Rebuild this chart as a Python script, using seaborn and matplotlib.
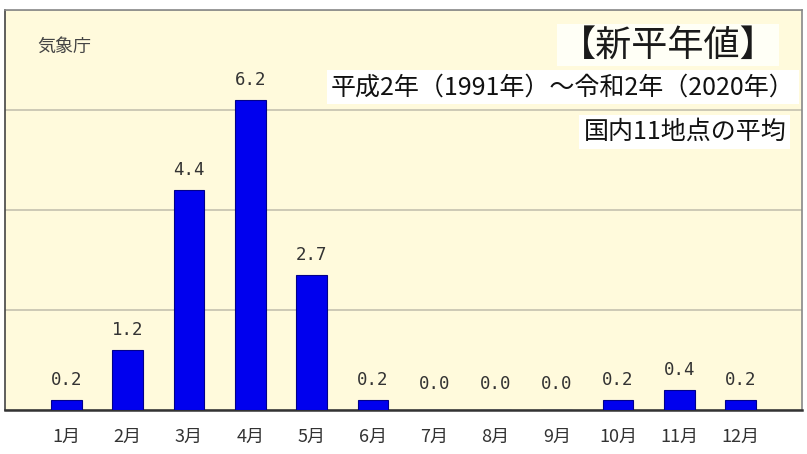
import numpy as np
import pandas as pd
import seaborn as sns
import matplotlib.pyplot as plt

months = ["1月", "2月", "3月", "4月", "5月", "6月", "7月", "8月", "9月", "10月", "11月", "12月"]
values = [0.2, 1.2, 4.4, 6.2, 2.7, 0.2, 0.0, 0.0, 0.0, 0.2, 0.4, 0.2]
value_labels = ["0.2", "1.2", "4.4", "6.2", "2.7", "0.2", "0.0", "0.0", "0.0", "0.2", "0.4", "0.2"]
title_text = "【新平年値】"
period_text = "平成2年（1991年）～令和2年（2020年）"
note_text = "国内11地点の平均"
source_text = "気象庁"

sns.set_style("white")
plt.rcParams["font.family"] = ["Noto Sans CJK JP", "DejaVu Sans"]

df = pd.DataFrame({"month": months, "value": values})

fig = plt.figure(figsize=(8.07, 4.54), dpi=100)
fig.patch.set_facecolor("white")
ax = fig.add_axes([5 / 807, 44 / 454, 797 / 807, 400 / 454])
ax.set_facecolor("#FFFADC")

sns.barplot(data=df, x="month", y="value", color="#0000EE", saturation=1,
            width=0.5, edgecolor="#00008A", linewidth=0.8, ax=ax, zorder=3)

ax.set_xlim(-1.0, 12.0)
ax.set_ylim(0, 8)
ax.set_yticks([0, 2, 4, 6, 8])
ax.set_yticklabels([])
ax.yaxis.grid(True, color="#C9C5B2", linewidth=1.3, zorder=0)
ax.set_axisbelow(True)
ax.set_xlabel("")
ax.set_ylabel("")
ax.tick_params(axis="x", length=0, pad=13, labelsize=13, labelcolor="#333333")
ax.tick_params(axis="y", length=4, direction="out", color="#777777")

for side in ["top", "right"]:
    ax.spines[side].set_color("#888888")
    ax.spines[side].set_linewidth(1.2)
ax.spines["left"].set_color("#444444")
ax.spines["left"].set_linewidth(1.2)
ax.spines["bottom"].set_color("#333333")
ax.spines["bottom"].set_linewidth(1.8)

for i, (v, lab) in enumerate(zip(values, value_labels)):
    off = 12 if v == 0 else 8
    ax.annotate(lab, (i, v), xytext=(0, off), textcoords="offset points",
                ha="center", va="bottom", fontsize=12.5, color="#333333",
                family="DejaVu Sans Mono", zorder=4)

ax.text(0.04, 0.908, source_text, transform=ax.transAxes, fontsize=13,
        color="#444444", ha="left", va="center")

box = dict(facecolor="#FFFFF6", edgecolor="none", pad=2)
ax.text(0.832, 0.912, title_text, transform=ax.transAxes, fontsize=26,
        color="#1A1A1A", ha="center", va="center", bbox=box, zorder=5)
ax.text(0.7, 0.807, period_text, transform=ax.transAxes, fontsize=18,
        color="#111111", ha="center", va="center",
        bbox=dict(facecolor="white", edgecolor="none", pad=3), zorder=5)
ax.text(0.853, 0.695, note_text, transform=ax.transAxes, fontsize=18,
        color="#111111", ha="center", va="center",
        bbox=dict(facecolor="white", edgecolor="none", pad=3), zorder=5)

fig.savefig("out.png", dpi=100)
